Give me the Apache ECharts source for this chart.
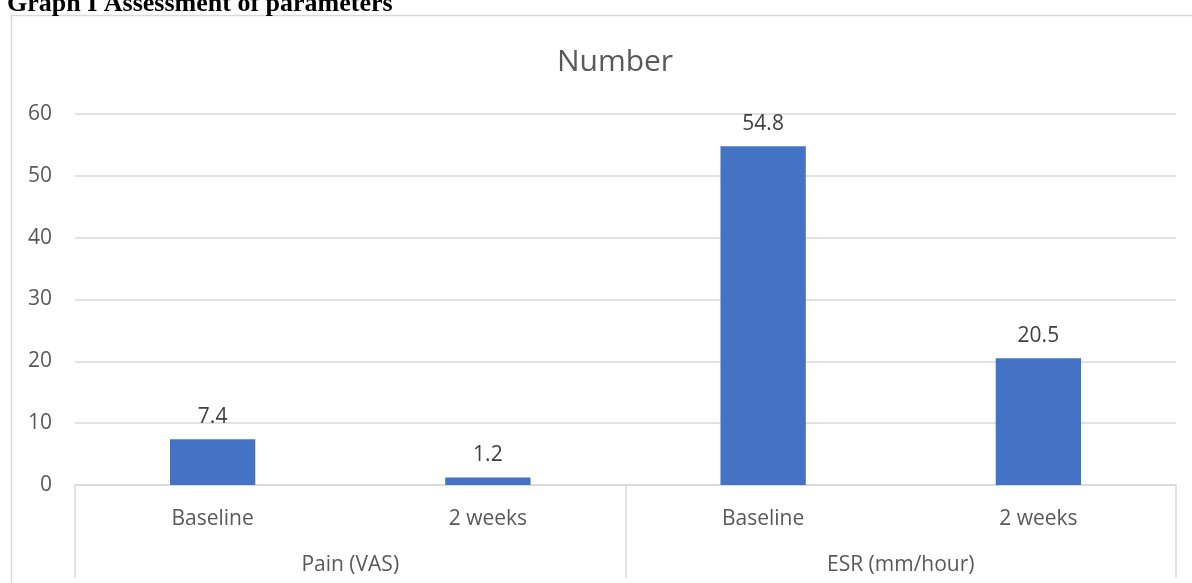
<!DOCTYPE html>
<html>
<head>
<meta charset="utf-8">
<style>
  html, body { margin: 0; padding: 0; background: #fff; }
  #chart { width: 1192px; height: 583px; }
</style>
<script src="https://cdn.jsdelivr.net/npm/echarts@6/dist/echarts.min.js"></script>
</head>
<body>
<div id="chart"></div>
<script>
// Measurement time points, grouped by parameter
const timePoints = ['Baseline', '2 weeks', 'Baseline', '2 weeks'];
const parameterGroups = ['Pain (VAS)', 'ESR (mm/hour)'];
const values = [7.4, 1.2, 54.8, 20.5];
const yTicks = [0, 10, 20, 30, 40, 50, 60];

const FONT = '"Open Sans", "Noto Sans", sans-serif';
const GREY = '#595959';
const LINE = '#d9d9d9';

const chart = echarts.init(document.getElementById('chart'), null, { renderer: 'canvas' });

chart.setOption({
  animation: false,
  backgroundColor: '#ffffff',
  graphic: [
    {
      type: 'rect',
      shape: { x: 11.5, y: 15.5, width: 1200, height: 620 },
      style: { fill: 'none', stroke: LINE, lineWidth: 1.5 },
      silent: true
    },
    {
      type: 'text',
      left: 7,
      top: -9,
      style: {
        text: 'Graph I Assessment of parameters',
        font: 'bold 26px "Liberation Serif", "Times New Roman", serif',
        fill: '#000000'
      }
    }
  ],
  title: {
    text: 'Number',
    left: 610,
    top: 42,
    textAlign: 'center',
    textStyle: { fontFamily: FONT, fontSize: 30, fontWeight: 'normal', color: GREY }
  },
  grid: { left: 75, right: 16, top: 114, bottom: 98, containLabel: false },
  xAxis: [
    {
      type: 'category',
      data: timePoints,
      position: 'bottom',
      axisLine: { show: true, lineStyle: { color: LINE, width: 1.5 } },
      axisTick: { show: false },
      axisLabel: { margin: 24, fontFamily: FONT, fontSize: 21, color: GREY }
    },
    {
      type: 'category',
      data: parameterGroups,
      position: 'bottom',
      gridIndex: 0,
      boundaryGap: true,
      axisLine: { show: false },
      axisTick: { show: true, length: 93, lineStyle: { color: LINE, width: 1.5 } },
      axisLabel: { margin: 70, fontFamily: FONT, fontSize: 21, color: GREY }
    }
  ],
  yAxis: {
    type: 'value',
    min: yTicks[0],
    max: yTicks[yTicks.length - 1],
    interval: 10,
    axisLine: { show: false },
    axisTick: { show: false },
    axisLabel: { margin: 23, padding: [3, 0, 0, 0], fontFamily: FONT, fontSize: 21, color: GREY },
    splitLine: { lineStyle: { color: LINE, width: 1.5 } }
  },
  series: [
    {
      type: 'bar',
      xAxisIndex: 0,
      data: values,
      barWidth: '31%',
      itemStyle: { color: '#4472c4' },
      label: {
        show: true,
        position: 'top',
        distance: 12,
        fontFamily: FONT,
        fontSize: 21,
        color: '#404040',
        formatter: p => p.value.toFixed(1)
      }
    }
  ]
});
</script>
</body>
</html>
